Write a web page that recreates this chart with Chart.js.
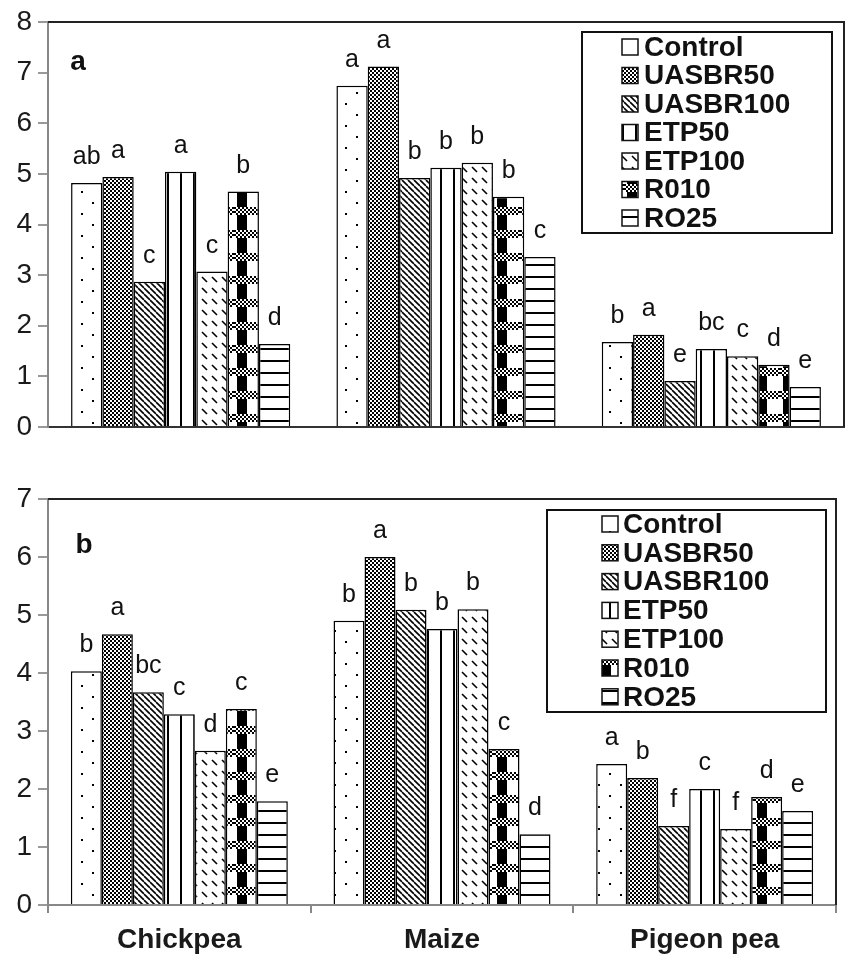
<!DOCTYPE html>
<html>
<head>
<meta charset="utf-8">
<script src="https://cdn.jsdelivr.net/npm/chart.js@4.4.0/dist/chart.umd.min.js"></script>
<style>
  body { margin: 0; background: #fff; }
  .wrap { position: absolute; left: 0; width: 846px; }
  #wrapA { top: 0; height: 440px; }
  #wrapB { top: 450px; height: 505px; }
</style>
</head>
<body>
<div class="wrap" id="wrapA"><canvas id="chartA"></canvas></div>
<div class="wrap" id="wrapB"><canvas id="chartB"></canvas></div>
<script>
const crops = ["Chickpea", "Maize", "Pigeon pea"];
const treatments = ["Control", "UASBR50", "UASBR100", "ETP50", "ETP100", "R010", "RO25"];

// panel a
const controlA = [4.82, 6.74, 1.68];
const uasbr50A = [4.94, 7.12, 1.82];
const uasbr100A = [2.87, 4.92, 0.91];
const etp50A = [5.04, 5.12, 1.54];
const etp100A = [3.07, 5.22, 1.40];
const r010A = [4.65, 4.55, 1.23];
const ro25A = [1.64, 3.36, 0.79];
const lettersA = [
  ["ab", "a", "b"],
  ["a", "a", "a"],
  ["c", "b", "e"],
  ["a", "b", "bc"],
  ["c", "b", "c"],
  ["b", "b", "d"],
  ["d", "c", "e"],
];
const yTicksA = [0, 1, 2, 3, 4, 5, 6, 7, 8];

// panel b
const controlB = [4.03, 4.90, 2.43];
const uasbr50B = [4.67, 6.00, 2.19];
const uasbr100B = [3.67, 5.09, 1.36];
const etp50B = [3.29, 4.76, 2.00];
const etp100B = [2.66, 5.10, 1.31];
const r010B = [3.38, 2.69, 1.86];
const ro25B = [1.79, 1.22, 1.62];
const lettersB = [
  ["b", "b", "a"],
  ["a", "a", "b"],
  ["bc", "b", "f"],
  ["c", "b", "c"],
  ["d", "b", "f"],
  ["c", "c", "d"],
  ["e", "d", "e"],
];
const yTicksB = [0, 1, 2, 3, 4, 5, 6, 7];

const FONT = "'Liberation Sans', Arial, sans-serif";

// black and white fill patterns, one per treatment
function tile(w, h, draw) {
  const c = document.createElement("canvas");
  c.width = w;
  c.height = h;
  const g = c.getContext("2d");
  g.fillStyle = "#fff";
  g.fillRect(0, 0, w, h);
  g.fillStyle = "#000";
  g.strokeStyle = "#000";
  draw(g);
  return g.createPattern(c, "repeat");
}

const patterns = [
  // Control: sparse dots
  tile(22, 22, (g) => {
    g.fillRect(4, 4, 2, 2);
    g.fillRect(15, 15, 2, 2);
  }),
  // UASBR50: fine checker
  tile(4, 4, (g) => {
    g.fillRect(0, 0, 2, 2);
    g.fillRect(2, 2, 2, 2);
  }),
  // UASBR100: dense diagonal lines
  tile(6, 6, (g) => {
    g.lineWidth = 1.6;
    for (let k = -1; k <= 1; k++) {
      g.beginPath();
      g.moveTo(k * 6, 0);
      g.lineTo(k * 6 + 6, 6);
      g.stroke();
    }
  }),
  // ETP50: vertical lines
  tile(13, 2, (g) => {
    g.fillRect(11, 0, 2, 2);
  }),
  // ETP100: short diagonal dashes
  tile(10, 11, (g) => {
    g.lineWidth = 1.6;
    g.beginPath();
    g.moveTo(2, 2);
    g.lineTo(7, 7);
    g.stroke();
  }),
  // R010: checker bands with black blocks
  tile(26, 23, (g) => {
    for (let y = 0; y < 8; y += 2) {
      for (let x = 0; x < 26; x += 2) {
        if (((x + y) / 2) % 2 === 0) g.fillRect(x, y, 2, 2);
      }
    }
    g.fillRect(3, 8, 10, 15);
  }),
  // RO25: horizontal lines
  tile(2, 12, (g) => {
    g.fillRect(0, 0, 2, 2);
  }),
];

const letterPlugin = {
  id: "letters",
  afterDatasetsDraw(chart) {
    const ctx = chart.ctx;
    ctx.save();
    ctx.font = "25px " + FONT;
    ctx.fillStyle = "#111";
    ctx.textAlign = "center";
    ctx.textBaseline = "alphabetic";
    chart.data.datasets.forEach((ds, i) => {
      chart.getDatasetMeta(i).data.forEach((bar, j) => {
        ctx.fillText(ds.letters[j], bar.x, bar.y - 19);
      });
    });
    ctx.restore();
  },
};

const framePlugin = {
  id: "frame",
  afterDraw(chart, args, opts) {
    const ctx = chart.ctx;
    const a = chart.chartArea;
    ctx.save();
    ctx.strokeStyle = "#222";
    ctx.lineWidth = 2;
    ctx.beginPath();
    ctx.moveTo(a.left, a.top);
    ctx.lineTo(a.right, a.top);
    ctx.lineTo(a.right, a.bottom);
    ctx.stroke();

    // panel letter
    ctx.fillStyle = "#111";
    ctx.font = "bold 28px " + FONT;
    ctx.textAlign = "center";
    ctx.textBaseline = "middle";
    ctx.fillText(opts.panel, opts.panelX, opts.panelY);

    // legend box
    const L = opts.legend;
    ctx.lineWidth = 2;
    ctx.strokeStyle = "#111";
    ctx.strokeRect(L.left, L.top, L.width, L.height);
    ctx.font = "bold 28px " + FONT;
    ctx.textAlign = "left";
    chart.data.datasets.forEach((ds, i) => {
      const cy = L.firstY + i * L.rowH;
      ctx.fillStyle = ds.backgroundColor;
      ctx.fillRect(L.markerX, cy - 8, 16, 16);
      ctx.lineWidth = 1.5;
      ctx.strokeRect(L.markerX, cy - 8, 16, 16);
      ctx.fillStyle = "#111";
      ctx.fillText(ds.label, L.textX, cy + 1);
    });
    ctx.restore();
  },
};

function buildDatasets(series, letters) {
  return series.map((values, i) => ({
    label: treatments[i],
    data: values,
    letters: letters[i],
    backgroundColor: patterns[i],
    borderColor: "#000",
    borderWidth: 1.5,
    barPercentage: 1,
    categoryPercentage: 0.826,
  }));
}

function makeChart(id, series, letters, yTicks, cfg) {
  new Chart(document.getElementById(id), {
    type: "bar",
    data: {
      labels: crops,
      datasets: buildDatasets(series, letters),
    },
    options: {
      responsive: true,
      maintainAspectRatio: false,
      animation: false,
      layout: { padding: cfg.padding },
      scales: {
        x: {
          grid: {
            display: true,
            drawOnChartArea: false,
            offset: true,
            tickLength: cfg.xTickLength,
            color: "#888",
            lineWidth: 2,
          },
          border: { color: cfg.xAxisColor, width: 2 },
          ticks: {
            display: cfg.showX,
            color: "#1a1a1a",
            padding: 10,
            font: { family: FONT, size: 28, weight: "bold" },
          },
          afterFit: (s) => {
            s.height = cfg.xHeight;
            s.paddingLeft = 0;
            s.paddingRight = 0;
          },
        },
        y: {
          min: yTicks[0],
          max: yTicks[yTicks.length - 1],
          afterBuildTicks: (s) => {
            s.ticks = yTicks.map((v) => ({ value: v }));
          },
          grid: {
            drawOnChartArea: false,
            tickLength: 10,
            color: "#999",
            lineWidth: 2,
          },
          border: { color: "#888", width: 2 },
          ticks: {
            color: "#1a1a1a",
            padding: 6,
            font: { family: FONT, size: 28 },
          },
          afterFit: (s) => {
            s.width = 48;
            s.paddingTop = 0;
            s.paddingBottom = 0;
          },
        },
      },
      plugins: {
        legend: { display: false },
        tooltip: { enabled: false },
        frame: cfg.frame,
      },
    },
    plugins: [letterPlugin, framePlugin],
  });
}

makeChart(
  "chartA",
  [controlA, uasbr50A, uasbr100A, etp50A, etp100A, r010A, ro25A],
  lettersA,
  yTicksA,
  {
    padding: { top: 22, right: 2, left: 0, bottom: 0 },
    xTickLength: 0,
    xAxisColor: "#333",
    showX: false,
    xHeight: 13,
    frame: {
      panel: "a",
      panelX: 78,
      panelY: 62,
      legend: { left: 582, top: 32, width: 250, height: 201, markerX: 622, textX: 644, firstY: 47, rowH: 28.5 },
    },
  }
);

makeChart(
  "chartB",
  [controlB, uasbr50B, uasbr100B, etp50B, etp100B, r010B, ro25B],
  lettersB,
  yTicksB,
  {
    padding: { top: 49, right: 10, left: 0, bottom: 0 },
    xTickLength: 8,
    xAxisColor: "#888",
    showX: true,
    xHeight: 50,
    frame: {
      panel: "b",
      panelX: 84,
      panelY: 95,
      legend: { left: 547, top: 60, width: 279, height: 202, markerX: 602, textX: 623, firstY: 74, rowH: 28.8 },
    },
  }
);
</script>
</body>
</html>
